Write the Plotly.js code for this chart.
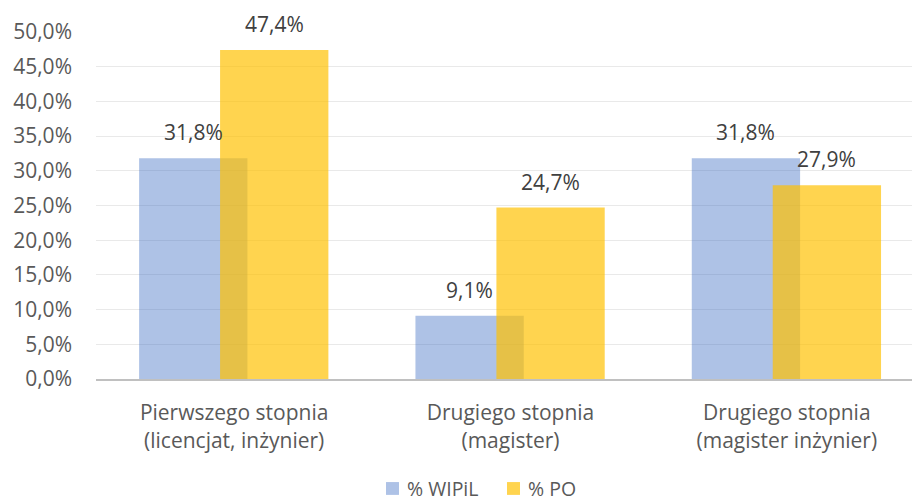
<!DOCTYPE html>
<html><head><meta charset="utf-8">
<script src="https://cdn.plot.ly/plotly-3.0.1.min.js"></script>
<style>html,body{margin:0;padding:0;background:#fff}#c{width:912px;height:502px}</style>
</head><body><div id="c"></div>
<script>
const categories = ["Pierwszego stopnia<br>(licencjat, inżynier)", "Drugiego stopnia<br>(magister)", "Drugiego stopnia<br>(magister inżynier)"];
const seriesNames = ["% WIPiL", "% PO"];
const wipil = [31.8, 9.1, 31.8];
const po = [47.4, 24.7, 27.9];
const yTicks = [0, 5, 10, 15, 20, 25, 30, 35, 40, 45, 50];

const fmt = v => v.toFixed(1).replace('.', ',') + '%';
const FONT = 'Open Sans, sans-serif';
const COLORS = ['rgba(68,114,196,0.43)', 'rgba(255,192,0,0.69)'];
const idx = categories.map((c, i) => i);
const W = 0.392, offB = -0.344, offY = -0.051;

const traces = [
  {type: 'bar', x: idx, y: wipil, name: seriesNames[0], width: W, offset: offB,
   marker: {color: COLORS[0]}, hoverinfo: 'none'},
  {type: 'bar', x: idx, y: po, name: seriesNames[1], width: W, offset: offY,
   marker: {color: COLORS[1]}, hoverinfo: 'none'}
];
const ann = [];
idx.forEach(i => {
  ann.push({x: i + offB + W / 2, y: wipil[i], text: fmt(wipil[i]), showarrow: false, yanchor: 'middle', yshift: 26,
    font: {family: FONT, size: 21, color: '#404040'}});
  ann.push({x: i + offY + W / 2, y: po[i], text: fmt(po[i]), showarrow: false, yanchor: 'middle', yshift: 26,
    font: {family: FONT, size: 21, color: '#404040'}});
});
// manual legend (paper coordinates)
const legX = [[0.3554, 0.3713, 0.3787], [0.5037, 0.5196, 0.5270]];
const shapes = [];
seriesNames.forEach((n, k) => {
  shapes.push({type: 'rect', xref: 'paper', yref: 'paper', x0: legX[k][0], x1: legX[k][1], y0: -0.334, y1: -0.297,
    fillcolor: COLORS[k], line: {width: 0}});
  ann.push({xref: 'paper', yref: 'paper', x: legX[k][2], y: -0.3155, xanchor: 'left', yanchor: 'middle', text: n,
    showarrow: false, font: {family: FONT, size: 19.5, color: '#595959'}});
});
const layout = {
  width: 912, height: 502,
  margin: {l: 96, r: 0, t: 32, b: 123, autoexpand: false},
  barmode: 'overlay',
  paper_bgcolor: '#fff', plot_bgcolor: '#fff',
  font: {family: FONT, color: '#595959'},
  xaxis: {tickvals: idx, ticktext: categories, range: [-0.5, 2.453], showgrid: false,
    tickfont: {size: 21, color: '#595959'}, ticks: '', showline: true, linecolor: '#c0c0c0', linewidth: 2,
    zeroline: false, fixedrange: true, ticklabelstandoff: 14, automargin: false},
  yaxis: {range: [0, 50], tickvals: yTicks, ticktext: yTicks.map(fmt), showgrid: true, gridcolor: '#e9e9e9', gridwidth: 1,
    tickfont: {size: 21, color: '#595959'}, zeroline: false, showline: false, ticks: '', ticklabelstandoff: 23,
    fixedrange: true, automargin: false},
  showlegend: false,
  shapes: shapes,
  annotations: ann
};
Plotly.newPlot('c', traces, layout, {displayModeBar: false, staticPlot: true});
</script></body></html>
